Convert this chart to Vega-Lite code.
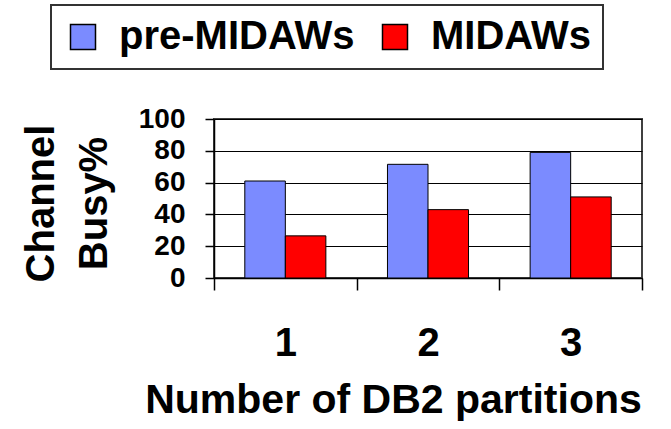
{
  "$schema": "https://vega.github.io/schema/vega-lite/v6.json",
  "autosize": {"type": "none"},
  "width": 428,
  "height": 159,
  "padding": {"left": 214, "top": 119, "right": 29, "bottom": 151},
  "background": "white",
  "config": {
    "font": "Liberation Sans",
    "view": {"stroke": "#404040", "strokeWidth": 2},
    "legend": {"strokeWidth": 2}
  },
  "data": {
    "values": [
      {"partitions": "1", "series": "pre-MIDAWs", "busy": 61},
      {"partitions": "1", "series": "MIDAWs", "busy": 26.5},
      {"partitions": "2", "series": "pre-MIDAWs", "busy": 71.5},
      {"partitions": "2", "series": "MIDAWs", "busy": 43},
      {"partitions": "3", "series": "pre-MIDAWs", "busy": 79},
      {"partitions": "3", "series": "MIDAWs", "busy": 51}
    ]
  },
  "mark": {"type": "bar", "stroke": "black", "strokeWidth": 1},
  "encoding": {
    "x": {
      "field": "partitions",
      "type": "nominal",
      "scale": {"paddingInner": 0, "paddingOuter": 0},
      "axis": {
        "title": "Number of DB2 partitions",
        "labelAngle": 0,
        "labelFontSize": 40,
        "labelFontWeight": "bold",
        "labelColor": "black",
        "labelPadding": 33,
        "tickBand": "extent",
        "tickSize": 12,
        "tickColor": "black",
        "tickWidth": 1.5,
        "domainColor": "black",
        "domainWidth": 1.5,
        "titleFontSize": 41,
        "titleFontWeight": "bold",
        "titleColor": "black",
        "titleX": 179,
        "titleY": 134,
        "titleAlign": "center",
        "titleBaseline": "alphabetic"
      }
    },
    "xOffset": {
      "field": "series",
      "type": "nominal",
      "sort": ["pre-MIDAWs", "MIDAWs"],
      "scale": {"paddingInner": 0, "paddingOuter": 0.76}
    },
    "y": {
      "field": "busy",
      "type": "quantitative",
      "scale": {"domain": [0, 100]},
      "axis": {
        "title": ["Channel", "Busy%"],
        "values": [0, 20, 40, 60, 80, 100],
        "labelFontSize": 28,
        "labelFontWeight": "bold",
        "labelColor": "black",
        "labelPadding": 20,
        "tickSize": 9,
        "tickColor": "black",
        "tickWidth": 1.5,
        "domainColor": "black",
        "domainWidth": 1.5,
        "grid": true,
        "gridColor": "black",
        "gridWidth": 1.2,
        "titleFontSize": 40,
        "titleFontWeight": "bold",
        "titleColor": "black",
        "titleAngle": -90,
        "titleX": -161,
        "titleY": 84,
        "titleAlign": "center",
        "titleBaseline": "alphabetic",
        "titleLineHeight": 53
      }
    },
    "color": {
      "field": "series",
      "type": "nominal",
      "sort": ["pre-MIDAWs", "MIDAWs"],
      "scale": {"domain": ["pre-MIDAWs", "MIDAWs"], "range": ["#7B8BFF", "#FF0000"]},
      "legend": {
        "title": null,
        "orient": "none",
        "legendX": -163,
        "legendY": -114,
        "direction": "horizontal",
        "columns": 2,
        "symbolType": "square",
        "symbolSize": 625,
        "symbolStrokeColor": "black",
        "symbolStrokeWidth": 1.5,
        "symbolOpacity": 1,
        "labelFontSize": 40,
        "labelFontWeight": "bold",
        "labelColor": "black",
        "labelOffset": 16,
        "labelLimit": 400,
        "columnPadding": 20,
        "padding": 12,
        "strokeColor": "#333333",
        "cornerRadius": 0,
        "fillColor": "white"
      }
    }
  }
}
